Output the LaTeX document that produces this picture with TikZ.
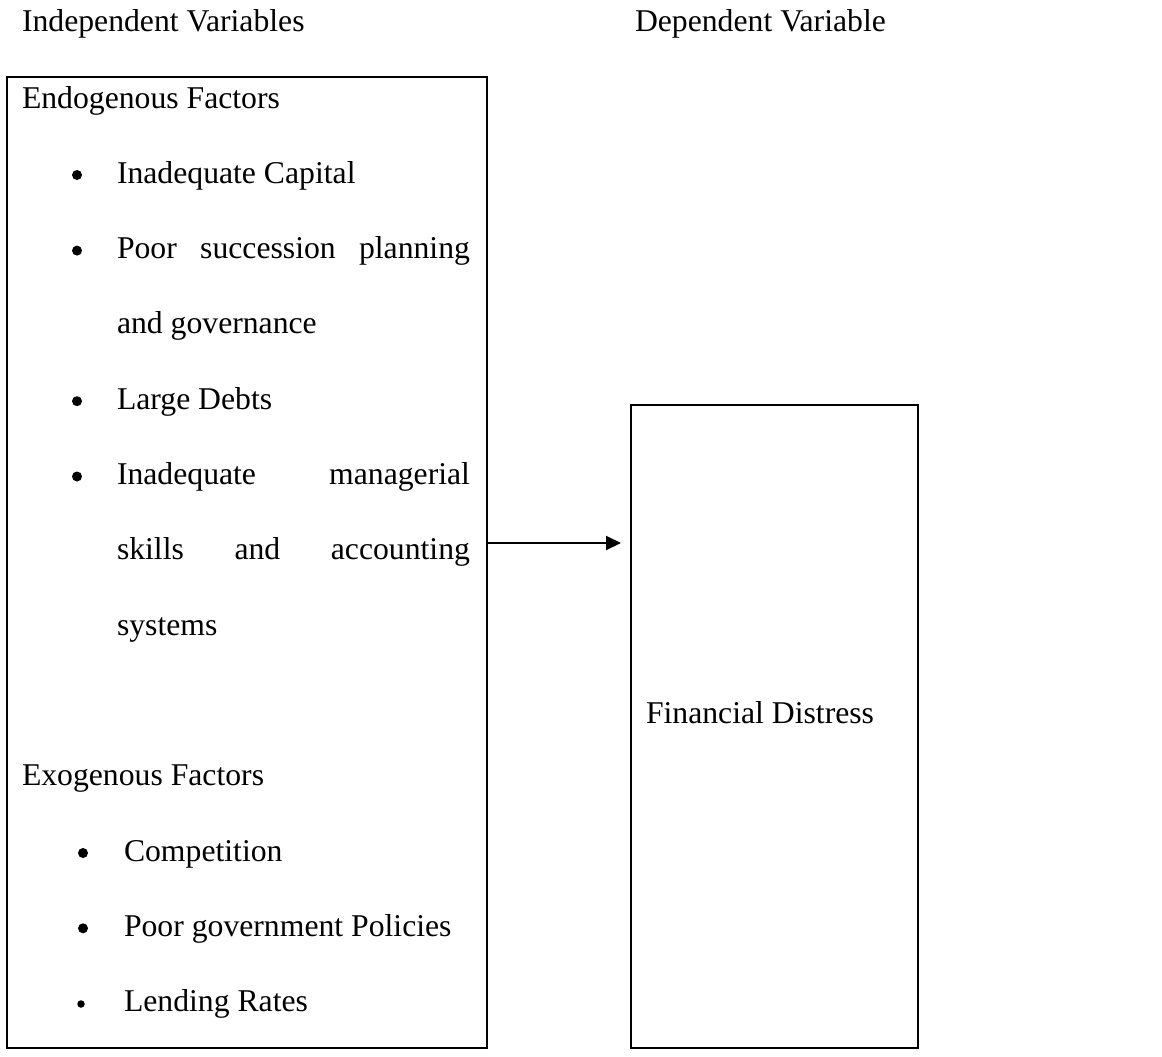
\documentclass[tikz,border=0pt]{standalone}
\usepackage{fontspec}
\setmainfont{Liberation Serif}
\usetikzlibrary{arrows.meta}
\begin{document}
\begin{tikzpicture}[x=1pt,y=-1pt,
  txt/.style={anchor=base west, inner sep=0pt, outer sep=0pt, font=\fontsize{31.7}{38}\selectfont},
  bul/.style={circle, fill=black, inner sep=0pt, outer sep=0pt, minimum size=10pt},
  smallbul/.style={bul, minimum size=7.5pt},
  frame/.style={draw, line width=2.4pt, inner sep=0pt, outer sep=0pt, anchor=north west},
  link/.style={line width=2pt, -{Triangle[length=15pt,width=14pt]}}]
\useasboundingbox (0,0) rectangle (1162,1057);
% headings
\node[txt] (indep) at (22,32) {Independent Variables};
\node[txt] (dep) at (635,32) {Dependent Variable};
% boxes
\node[frame, minimum width=480pt, minimum height=971pt] (left) at (7,77) {};
\node[frame, minimum width=287pt, minimum height=643pt] (right) at (631,405) {};
% left box content
\node[txt] (endo) at (22,108) {Endogenous Factors};
\node[bul] (b1) at (77,175) {};
\node[txt] (i1) at (117,183.3) {Inadequate Capital};
\node[bul] (b2) at (77,250.6) {};
\node[txt] (i2a) at (117,258.6) {\makebox[353pt][s]{Poor succession planning}};
\node[txt] (i2b) at (117,333.9) {and governance};
\node[bul] (b3) at (77,401.2) {};
\node[txt] (i3) at (117,409.2) {Large Debts};
\node[bul] (b4) at (77,476.5) {};
\node[txt] (i4a) at (117,484.5) {\makebox[353pt][s]{Inadequate managerial}};
\node[txt] (i4b) at (117,559.8) {\makebox[353pt][s]{skills and accounting}};
\node[txt] (i4c) at (117,635.1) {systems};
\node[txt] (exo) at (22,785.7) {Exogenous Factors};
\node[bul] (b5) at (83,853) {};
\node[txt] (e1) at (124,861) {Competition};
\node[bul] (b6) at (83,928.3) {};
\node[txt] (e2) at (124,936.3) {Poor government Policies};
\node[smallbul] (b7) at (81,1004) {};
\node[txt] (e3) at (124,1011.6) {Lending Rates};
% right box content
\node[txt] (fd) at (646,723) {Financial Distress};
% arrow
\coordinate (as) at (left.east |- 0,543);
\coordinate (ae) at ([xshift=-10pt]right.west |- as);
\draw[link] (as) -- (ae);
\end{tikzpicture}
\end{document}
